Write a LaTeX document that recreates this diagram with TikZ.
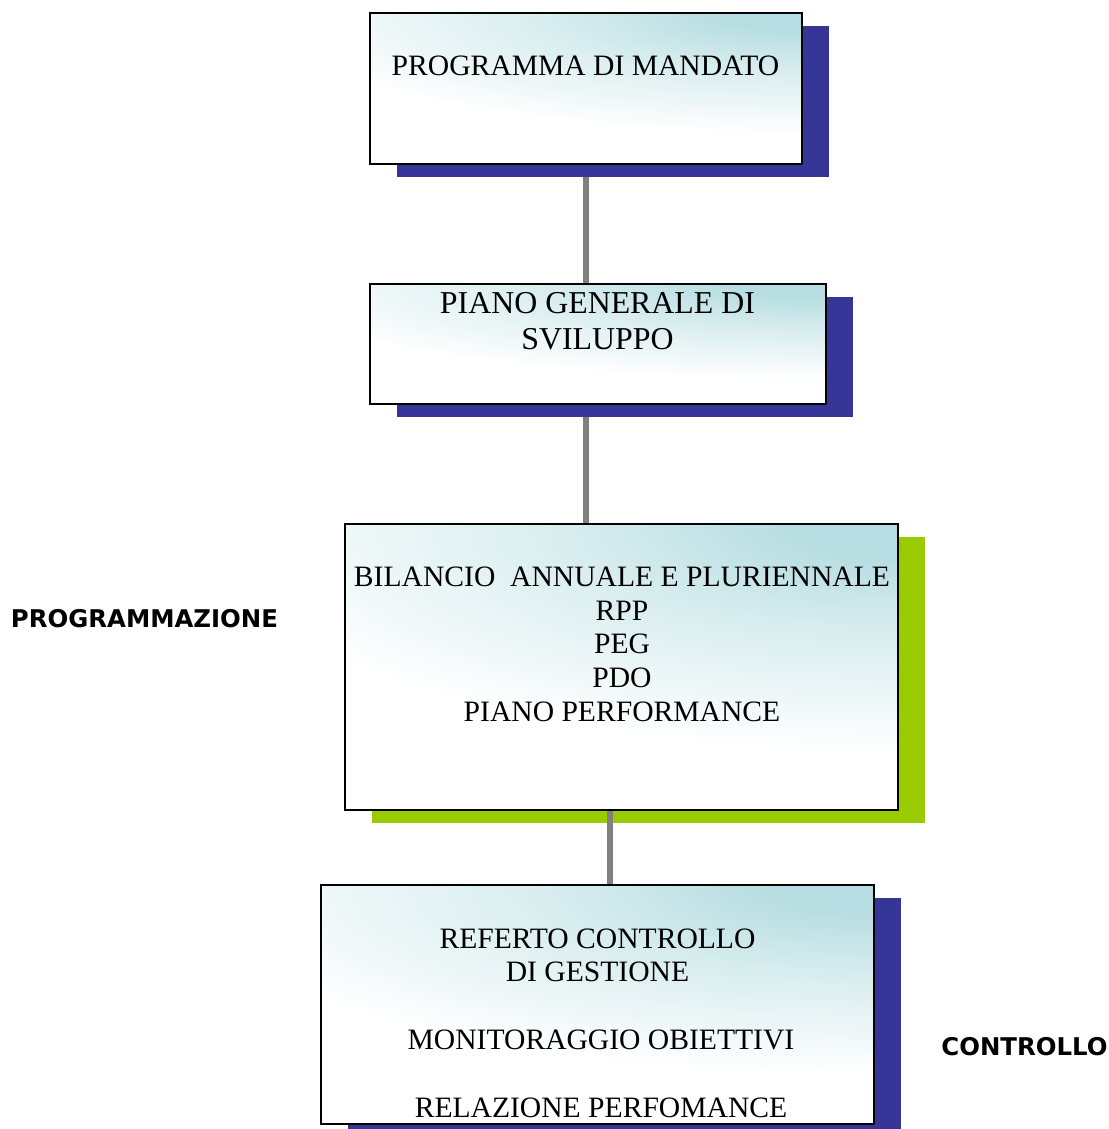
\documentclass[tikz,border=0pt]{standalone}
\usepackage{fontspec}
\setmainfont{Liberation Serif}
\newfontfamily\sidefont{DejaVu Sans}
\usetikzlibrary{shadows}
\definecolor{tealc}{RGB}{182,221,225}
\colorlet{tealmid}{tealc!55!white}
\definecolor{shblue}{RGB}{54,54,153}
\definecolor{shgreen}{RGB}{153,204,0}
\definecolor{conngray}{RGB}{128,128,128}
\pgfdeclareradialshading{tealfade}{\pgfpoint{0bp}{0bp}}{%
  color(0bp)=(tealc); color(2.5bp)=(tealc); color(8.5bp)=(tealmid); color(18.5bp)=(white); color(50bp)=(white)}
\tikzset{
  tealbox/.style 2 args={draw=black, line width=1.4pt, inner sep=0pt, rectangle, fill=white,
    minimum width=#1, minimum height=#2,
    path picture={
      \shade[shading=tealfade] (path picture bounding box.north east)
        ellipse [x radius=1.7*#1, y radius=1.08*#2];
    }},
  blueshadow/.style={general shadow={shadow xshift=20.25pt, shadow yshift=-9.75pt, fill=shblue}},
  greenshadow/.style={general shadow={shadow xshift=20.25pt, shadow yshift=-9.75pt, fill=shgreen}},
  conn/.style={draw=conngray, line width=3.8pt},
  boxtext/.style={anchor=base, inner sep=0pt, font=\fontsize{22.2}{26}\selectfont},
  bigtext/.style={anchor=base, inner sep=0pt, font=\fontsize{23.9}{28}\selectfont},
  sidetext/.style={anchor=base, inner sep=0pt, font=\sidefont\bfseries\fontsize{18.3}{22}\selectfont}
}
\begin{document}
\begin{tikzpicture}[x=0.75pt, y=-0.75pt]
\useasboundingbox (0,0) rectangle (1109,1129);
\coordinate (c1) at (586,0);
\coordinate (c3) at (610,0);
% connectors behind boxes
\draw[conn] (c1 |- 0,170) -- (c1 |- 0,290);
\draw[conn] (c1 |- 0,410) -- (c1 |- 0,530);
% boxes
\node[tealbox={324pt}{113.25pt}, blueshadow] (b1) at (586,88.5) {};
\node[tealbox={342pt}{90pt}, blueshadow] (b2) at (598,344) {};
\node[tealbox={414.75pt}{214.5pt}, greenshadow] (b3) at (621.5,667) {};
\node[tealbox={414.75pt}{179.25pt}, blueshadow] (b4) at (597.5,1004.5) {};
% connector over shadow
\draw[conn] (c3 |- b3.south) -- (c3 |- b4.north);
% texts
\node[boxtext] (t1) at (585.5,75) {PROGRAMMA DI MANDATO};
\node[bigtext] (t2a) at (597.5,313) {PIANO GENERALE DI};
\node[bigtext] (t2b) at (597.5,349) {SVILUPPO};
\node[boxtext] (t3a) at (622,586) {BILANCIO\ \ ANNUALE E PLURIENNALE};
\node[boxtext] (t3b) at (622,620) {RPP};
\node[boxtext] (t3c) at (622,653) {PEG};
\node[boxtext] (t3d) at (622,687) {PDO};
\node[boxtext] (t3e) at (622,721) {PIANO PERFORMANCE};
\node[boxtext] (t4a) at (597.5,948) {REFERTO CONTROLLO};
\node[boxtext] (t4b) at (597.5,981) {DI GESTIONE};
\node[boxtext] (t4c) at (601,1049) {MONITORAGGIO OBIETTIVI};
\node[boxtext] (t4d) at (601,1117) {RELAZIONE PERFOMANCE};
\node[sidetext] (s1) at (144.5,627) {PROGRAMMAZIONE};
\node[sidetext] (s2) at (1024.5,1055) {CONTROLLO};
\end{tikzpicture}
\end{document}
